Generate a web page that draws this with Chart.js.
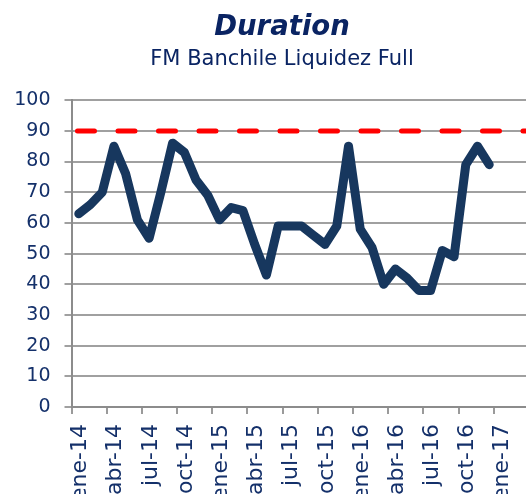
<!DOCTYPE html>
<html>
<head>
<meta charset="utf-8">
<script src="https://cdn.jsdelivr.net/npm/chart.js@4/dist/chart.umd.min.js"></script>
<style>
    html, body { margin: 0; padding: 0; background: #fff; overflow: hidden; }
    #wrap { width: 550px; height: 494px; }
</style>
</head>
<body>
<div id="wrap"><canvas id="durChart" width="550" height="494"></canvas></div>
<script>
    // Monthly duration, ene-14 .. dic-16
    const durationValues = [63, 66, 70, 85, 76, 61, 55, 70, 86, 83, 74, 69,
                            61, 65, 64, 53, 43, 59, 59, 59, 56, 53, 59, 85,
                            58, 52, 40, 45, 42, 38, 38, 51, 49, 79, 85, 79];
    const limitValue = 90;
    // x tick labels every 3 months starting ene-14
    const tickLabels = ['ene-14', 'abr-14', 'jul-14', 'oct-14', 'ene-15', 'abr-15', 'jul-15',
                        'oct-15', 'ene-16', 'abr-16', 'jul-16', 'oct-16', 'ene-17', 'abr-17'];

    const navy = '#14306a';
    Chart.defaults.font.family = 'DejaVu Sans';
    Chart.defaults.color = navy;

    // points sit inside their month slot
    const durPoints = durationValues.map((v, i) => ({ x: i + 0.62, y: v }));
    const limitPoints = [{ x: 0.51, y: limitValue }, { x: 40.8, y: limitValue }];

    const ctx = document.getElementById('durChart').getContext('2d');
    new Chart(ctx, {
        type: 'line',
        data: {
            datasets: [{
                label: 'Duration',
                data: durPoints,
                borderColor: '#17375e',
                borderWidth: 9,
                borderJoinStyle: 'round',
                borderCapStyle: 'round',
                pointRadius: 0,
                tension: 0
            }, {
                label: 'Limite',
                data: limitPoints,
                borderColor: '#ff0000',
                borderWidth: 5,
                borderDash: [17, 23.5],
                borderCapStyle: 'round',
                pointRadius: 0
            }]
        },
        options: {
            responsive: false,
            animation: false,
            layout: { padding: { left: 14, right: 0, top: 0, bottom: 0 } },
            plugins: {
                legend: { display: false },
                tooltip: { enabled: false },
                title: {
                    display: true,
                    text: 'Duration',
                    color: '#0a2463',
                    font: { size: 27.5, weight: 'bold', style: 'italic' },
                    padding: { top: 11, bottom: 0 }
                },
                subtitle: {
                    display: true,
                    text: 'FM Banchile Liquidez Full',
                    color: '#0a2463',
                    font: { size: 21 },
                    padding: { top: 3, bottom: 28 }
                }
            },
            scales: {
                x: {
                    type: 'linear',
                    min: 0,
                    max: 40.8,
                    afterFit: function(scale) {
                        scale.height = 87;
                        scale.paddingLeft = 0;
                        scale.paddingRight = 0;
                    },
                    grid: {
                        display: true,
                        drawOnChartArea: false,
                        drawTicks: true,
                        tickLength: 7,
                        color: '#9a9a9a',
                        lineWidth: 2
                    },
                    border: { color: '#8c8c8c', width: 2 },
                    ticks: {
                        stepSize: 3,
                        includeBounds: false,
                        autoSkip: false,
                        maxRotation: 90,
                        minRotation: 90,
                        padding: 10,
                        labelOffset: 9,
                        font: { size: 22 },
                        callback: function(value) {
                            return tickLabels[Math.round(value / 3)];
                        }
                    }
                },
                y: {
                    min: 0,
                    max: 100,
                    afterFit: function(scale) { scale.width = 57.5; },
                    grid: {
                        color: '#a0a0a0',
                        lineWidth: 2,
                        tickLength: 7
                    },
                    border: { color: '#8c8c8c', width: 2 },
                    ticks: {
                        stepSize: 10,
                        padding: 14,
                        font: { size: 19 }
                    }
                }
            }
        }
    });
</script>
</body>
</html>
